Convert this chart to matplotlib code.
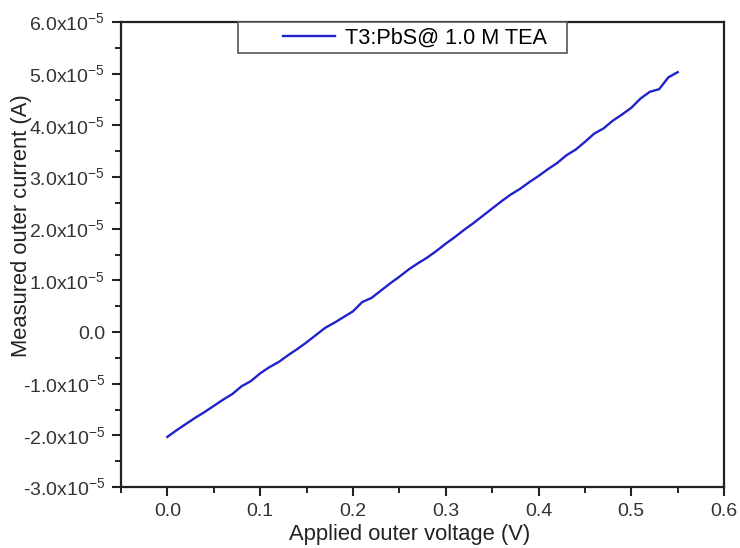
import numpy as np
import matplotlib; matplotlib.use("Agg")
import matplotlib.pyplot as plt
import matplotlib.ticker as ticker
from matplotlib.patches import Rectangle

plt.rcParams["font.family"] = ["Liberation Sans", "DejaVu Sans"]
plt.rcParams["mathtext.fontset"] = "custom"
plt.rcParams["mathtext.rm"] = "Liberation Sans"

# applied voltage (V) and measured current (units of 1e-5 A)
voltage = [0.00, 0.01, 0.02, 0.03, 0.04, 0.05, 0.06, 0.07, 0.08, 0.09,
           0.10, 0.11, 0.12, 0.13, 0.14, 0.15, 0.16, 0.17, 0.18, 0.19,
           0.20, 0.21, 0.22, 0.23, 0.24, 0.25, 0.26, 0.27, 0.28, 0.29,
           0.30, 0.31, 0.32, 0.33, 0.34, 0.35, 0.36, 0.37, 0.38, 0.39,
           0.40, 0.41, 0.42, 0.43, 0.44, 0.45, 0.46, 0.47, 0.48, 0.49,
           0.50, 0.51, 0.52, 0.53, 0.54, 0.55]
current_e5 = [-2.03, -1.90, -1.78, -1.66, -1.55, -1.43, -1.31, -1.20, -1.05, -0.95,
              -0.80, -0.68, -0.58, -0.45, -0.33, -0.20, -0.06, 0.08, 0.18, 0.29,
              0.40, 0.58, 0.66, 0.80, 0.94, 1.07, 1.21, 1.33, 1.44, 1.57,
              1.71, 1.84, 1.98, 2.11, 2.25, 2.39, 2.53, 2.66, 2.77, 2.90,
              3.02, 3.15, 3.27, 3.42, 3.53, 3.68, 3.84, 3.94, 4.09, 4.21,
              4.34, 4.52, 4.65, 4.70, 4.93, 5.03]
series_label = "T3:PbS@ 1.0 M TEA"

x_ticks = [0.0, 0.1, 0.2, 0.3, 0.4, 0.5, 0.6]
y_ticks = [-3e-5, -2e-5, -1e-5, 0.0, 1e-5, 2e-5, 3e-5, 4e-5, 5e-5, 6e-5]


def sci_fmt(v, pos):
    if abs(v) < 1e-12:
        return "0.0"
    return r"%.1fx10$^{-5}$" % (v / 1e-5)


fig = plt.figure(figsize=(7.4, 5.48), dpi=100)
ax = fig.add_axes([0.1635, 0.1113, 0.815, 0.8485])

current = np.array(current_e5) * 1e-5
ax.plot(voltage, current, color="#2222cc", lw=1.7, label=series_label)

ax.set_xlim(-0.05, 0.6)
ax.set_ylim(-3e-5, 6e-5)
ax.set_xticks(x_ticks)
ax.set_yticks(y_ticks)
ax.xaxis.set_major_formatter(ticker.FormatStrFormatter("%.1f"))
ax.yaxis.set_major_formatter(ticker.FuncFormatter(sci_fmt))
ax.xaxis.set_minor_locator(ticker.MultipleLocator(0.05))
ax.yaxis.set_minor_locator(ticker.MultipleLocator(0.5e-5))
ax.tick_params(which="major", direction="out", length=6.5, width=1.5,
               labelsize=14, pad=5, colors="#222222", labelcolor="#333333")
ax.tick_params(which="minor", direction="out", length=4.3, width=1.4, colors="#222222")
for s in ax.spines.values():
    s.set_linewidth(1.6)
    s.set_color("#222222")

ax.set_xlabel("Applied outer voltage (V)", fontsize=15.8, color="#222222")
ax.set_ylabel("Measured outer current (A)", fontsize=15.8, color="#222222")
ax.xaxis.set_label_coords(0.478, -0.08)
ax.yaxis.set_label_coords(-0.148, 0.563)

# legend box sitting on the top spine
ax.add_patch(Rectangle((0.194, 0.933), 0.546, 0.067, transform=ax.transAxes,
                       facecolor="white", edgecolor="#555555", lw=1.2,
                       clip_on=False, zorder=4))
leg = ax.legend(loc="center left", bbox_to_anchor=(0.269, 0.966), fontsize=15.6,
                frameon=False, handlelength=2.4, handletextpad=0.45,
                borderpad=0.0, borderaxespad=0.0)
leg.set_zorder(5)

fig.savefig("out.png", dpi=100)
